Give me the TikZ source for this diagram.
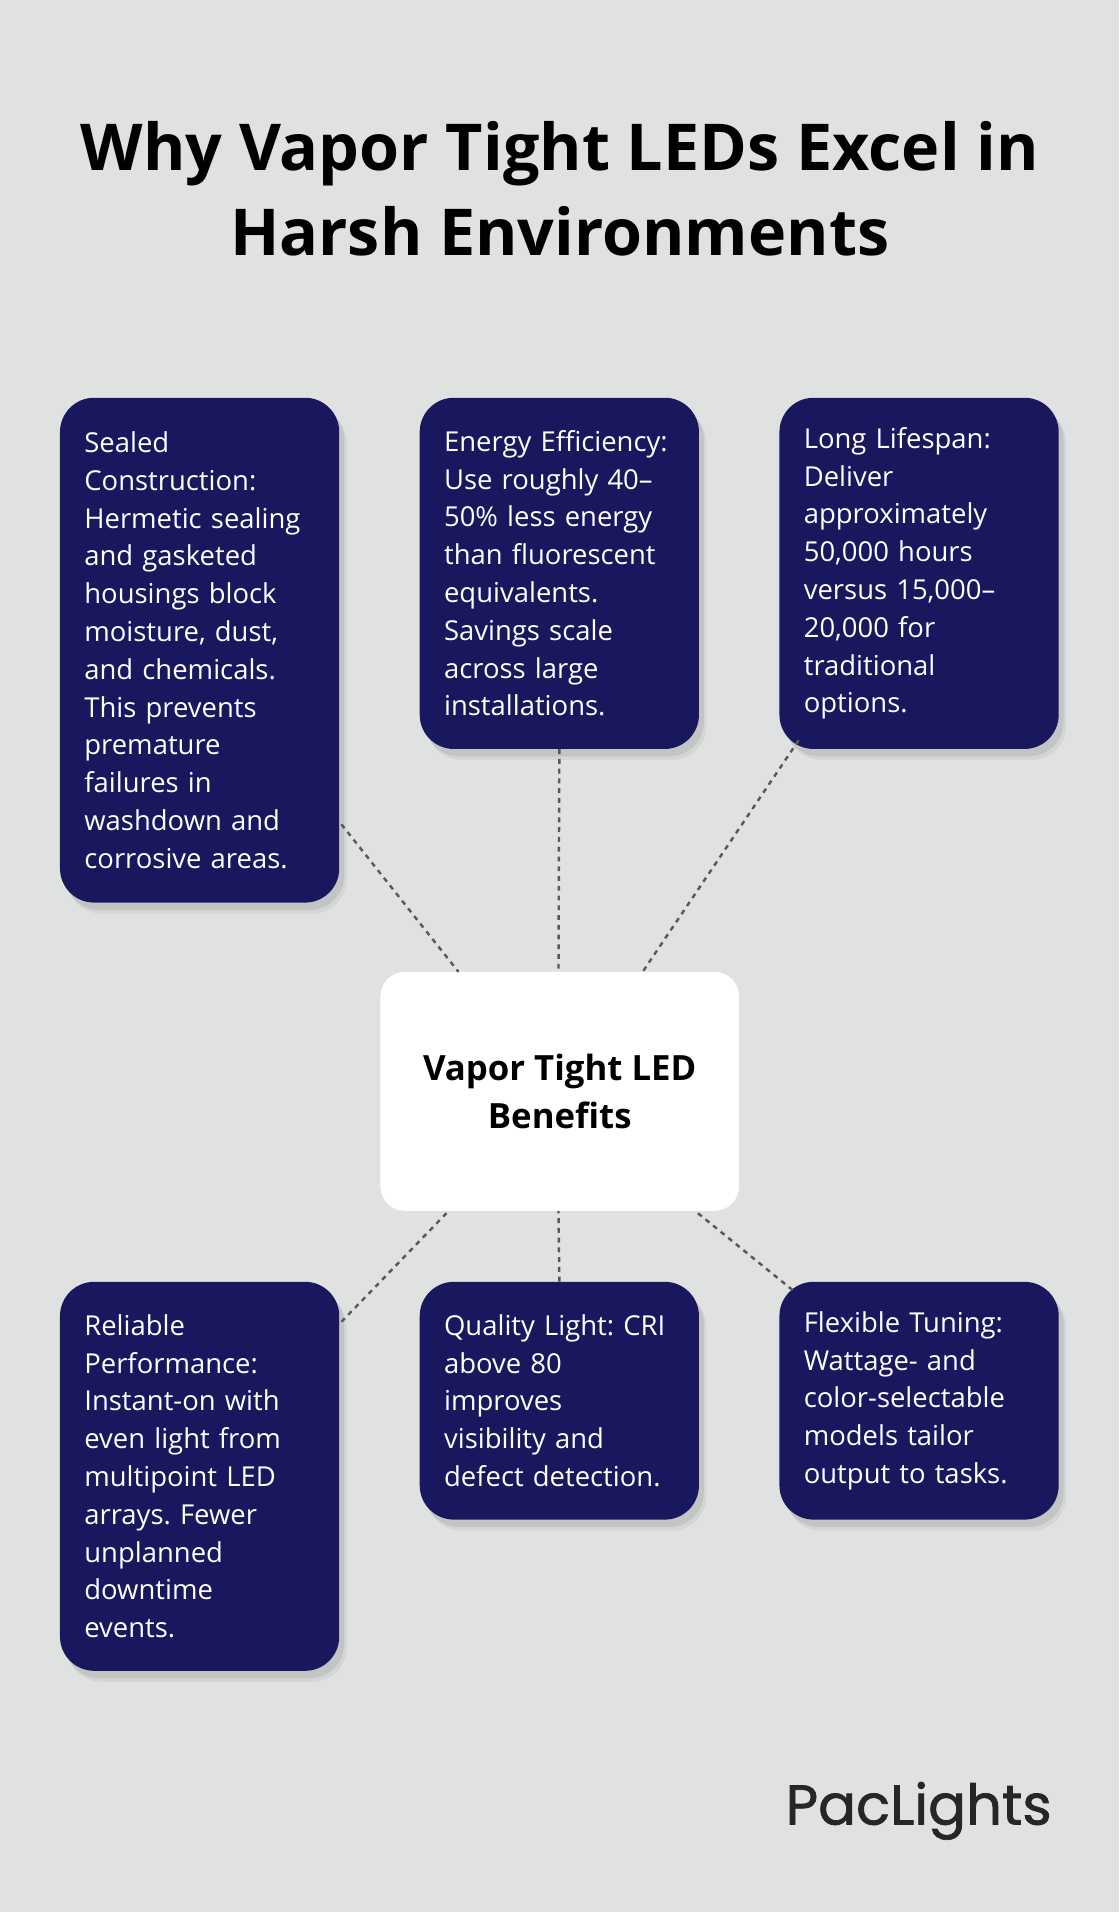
\documentclass[tikz,border=0pt]{standalone}
\usepackage{fontspec}
\setmainfont{Open Sans}
\newfontfamily\logofont[FakeBold=1.3]{Poppins}
\definecolor{bg}{HTML}{E0E2E1}
\definecolor{navy}{HTML}{19175E}
\frenchspacing
\begin{document}
\begin{tikzpicture}[x=1pt,y=-1pt,
 box/.style={fill=navy,text=white,rounded corners=28pt,anchor=north west,
   minimum width=229pt,text width=189pt,inner xsep=20pt,align=left,
   font=\fontsize{22.5}{31}\selectfont,
   preaction={fill=black,fill opacity=0.08,transform canvas={shift={(4pt,-6pt)}}},
   preaction={fill=black,fill opacity=0.05,transform canvas={shift={(6pt,-9pt)}}}},
 link/.style={draw=black!65,line width=2pt,dash pattern=on 4pt off 4pt}]
\fill[bg] (0,0) rectangle (918,1568);
\useasboundingbox (0,0) rectangle (918,1568);
\node[font=\fontsize{53}{70}\selectfont\bfseries,align=center] (t) at (459,155) {Why Vapor Tight LEDs Excel in\\Harsh Environments};
\node[box,minimum height=414pt] (a) at (49,326) {Sealed\\Construction:\\Hermetic sealing\\and gasketed\\housings block\\moisture, dust,\\and chemicals.\\This prevents\\premature\\failures in\\washdown and\\corrosive areas.};
\node[box,minimum height=288pt] (b) at (344,326) {Energy Efficiency:\\Use roughly 40–\\50\% less energy\\than fluorescent\\equivalents.\\Savings scale\\across large\\installations.};
\node[box,minimum height=288pt] (c) at (639,326) {Long Lifespan:\\Deliver\\approximately\\50,000 hours\\versus 15,000–\\20,000 for\\traditional\\options.};
\node[box,minimum height=319pt] (d) at (49,1051) {Reliable\\Performance:\\Instant-on with\\even light from\\multipoint LED\\arrays. Fewer\\unplanned\\downtime\\events.};
\node[box,minimum height=195pt] (e) at (344,1051) {Quality Light: CRI\\above 80\\improves\\visibility and\\defect detection.};
\node[box,minimum height=195pt] (f) at (639,1051) {Flexible Tuning:\\Wattage- and\\color-selectable\\models tailor\\output to tasks.};
\node[fill=white,rounded corners=20pt,minimum width=294pt,minimum height=196pt,align=center,
  font=\fontsize{28.5}{39}\selectfont\bfseries] (m) at (459,895) {Vapor Tight LED\\Benefits};
\coordinate (a1) at (280,676); \coordinate (m1) at (376,797);
\coordinate (m2) at (458,797);
\coordinate (c1) at (655,607); \coordinate (m3) at (527,797);
\coordinate (d1) at (280,1084); \coordinate (m4) at (368,993);
\coordinate (m5) at (458,993);
\coordinate (f1) at (650,1058); \coordinate (m6) at (570,993);
\draw[link] (a1) -- (m1);
\draw[link] (b.south) -- (m2);
\draw[link] (c1) -- (m3);
\draw[link] (d1) -- (m4);
\draw[link] (e.north) -- (m5);
\draw[link] (f1) -- (m6);
\node[font=\logofont\fontsize{46}{50}\selectfont,text=black!85,anchor=east] (logo) at (866,1485) {PacLights};
\end{tikzpicture}
\end{document}
